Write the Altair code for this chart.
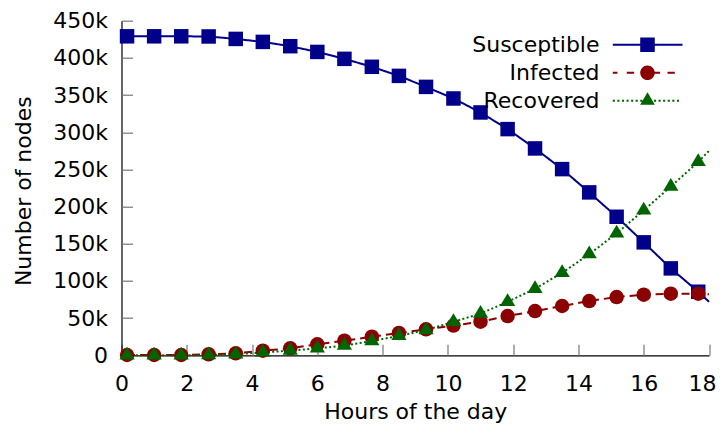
import altair as alt
import pandas as pd

# ---------------- data ----------------
series = ["Susceptible", "Infected", "Recovered"]
colors = ["#00008b", "#8b0000", "#006400"]

hours = [0.17, 1.0, 1.83, 2.67, 3.5, 4.33, 5.17, 6.0, 6.83, 7.67, 8.5,
         9.33, 10.17, 11.0, 11.83, 12.67, 13.5, 14.33, 15.17, 16.0, 16.83, 17.67]

susceptible = [429, 429, 429, 428.8, 425.5, 421.5, 415.7, 408, 398.7, 388, 375.8,
               361, 345.4, 326.6, 304.2, 278.2, 250.4, 219.1, 186.3, 151.9, 116.9, 85.5]
infected = [0.4, 0.4, 0.4, 1.3, 2.7, 6.2, 9.4, 14.8, 19.6, 25, 30,
            35, 40, 45.2, 52.8, 59.5, 66.3, 73, 78.4, 81.5, 82.8, 82.8]
recovered = [0, 0, 0, 0.4, 1.3, 4, 6.2, 9.4, 12.9, 19.2, 26,
             34, 45, 56, 72, 89.5, 111, 136, 164, 195, 227, 260]

# where each curve meets the right edge of the plot (hour 18)
edge_hour = 18
edge_values = [72, 82, 275]

x_ticks = [0, 2, 4, 6, 8, 10, 12, 14, 16, 18]
y_ticks = [0, 50000, 100000, 150000, 200000, 250000, 300000, 350000, 400000, 450000]

# ---------------- table ----------------
rows = []
for name, vals, edge in zip(series, [susceptible, infected, recovered], edge_values):
    for h, v in zip(hours, vals):
        rows.append({"series": name, "hour": h, "value": v * 1000, "marker": True})
    rows.append({"series": name, "hour": edge_hour, "value": edge * 1000, "marker": False})
df = pd.DataFrame(rows)

# ---------------- styles ----------------
FONT = "DejaVu Sans"
W, H = 587.5, 334.6

sq = "M-1,-1H1V1H-1Z"
tri = "M0,-1.19L1.05,0.57L-1.05,0.57Z"
marker_shapes = [sq, "circle", tri]


def rect(x0, x1, h=0.15):
    return f"M{x0:.2f},{-h}H{x1:.2f}V{h}H{x0:.2f}Z"


leg_sq = "M-1.04,-1.04H1.04V1.04H-1.04Z"
leg_circ = "M1.04,0A1.04,1.04 0 1,1 -1.04,0A1.04,1.04 0 1,1 1.04,0Z"
leg_tri = "M0,-1.19L1.05,0.57L-1.05,0.57Z"
path_s = rect(-4.96, 5.0) + leg_sq
path_i = rect(-4.96, -4.29) + rect(-2.96, -1.91) + rect(0.9, 1.8) + rect(2.86, 3.9) + leg_circ
path_r = "".join(rect(-4.96 + 0.654 * i, -4.96 + 0.654 * i + 0.3) for i in range(15)) + leg_tri
legend_paths = [path_s, path_i, path_r]

xs = alt.Scale(domain=[0, 18], nice=False, zero=False)
ys = alt.Scale(domain=[0, 450000], nice=False)
cs = alt.Scale(domain=series, range=colors)

leg = alt.Legend(
    title=None, orient="none", legendX=515, legendY=13, padding=0,
    labelFont=FONT, labelFontSize=22, labelColor="black",
    labelAlign="right", labelOffset={"expr": "-59"}, labelLimit=0, symbolOffset=0,
    symbolSize=196, symbolStrokeWidth=0, symbolOpacity=1,
    rowPadding=6,
)

main_x_axis = alt.Axis(
    values=x_ticks, format="d", ticks=False, grid=False,
    domainColor="black", domainWidth=1.2,
    labelFont=FONT, labelFontSize=22, labelColor="black", labelPadding=18,
    labelFlush=False,
    labelOffset={"condition": {"test": "datum.value == 18", "value": -7}, "value": 0},
    title="Hours of the day", titleFont=FONT, titleFontSize=22, titleFontWeight="normal",
    titleColor="black", titleBaseline="alphabetic", titleY=63.5, titleX=W / 2,
    orient="bottom",
)
main_y_axis = alt.Axis(
    values=y_ticks, ticks=False, grid=False,
    labelExpr="datum.value == 0 ? '0' : format(datum.value / 1000, 'd') + 'k'",
    domainColor="black", domainWidth=1.2,
    labelFont=FONT, labelFontSize=22, labelColor="black", labelPadding=14,
    labelFlush=False,
    title="Number of nodes", titleFont=FONT, titleFontSize=22, titleFontWeight="normal",
    titleColor="black", titleBaseline="alphabetic", titleX=-91, titleY=170, titleAngle=-90,
    orient="left",
)
tick_x_axis = alt.Axis(values=x_ticks, orient="bottom", offset=-11, tickSize=11, tickColor="#777",
                       tickWidth=1.2, labels=False, domain=False, grid=False, title=None)
tick_y_axis = alt.Axis(values=y_ticks, orient="left", offset=-11, tickSize=11, tickColor="#777",
                       tickWidth=1.2, labels=False, domain=False, grid=False, title=None)

base = alt.Chart(df)

legend_layer = base.transform_filter("false").mark_point(filled=True).encode(
    x=alt.X("hour:Q", scale=xs, axis=None),
    y=alt.Y("value:Q", scale=ys, axis=None),
    color=alt.Color("series:N", scale=cs, legend=leg),
    shape=alt.Shape("series:N", scale=alt.Scale(domain=series, range=legend_paths), legend=leg),
)

line_layer = base.mark_line(strokeWidth=2).encode(
    x=alt.X("hour:Q", scale=xs, axis=main_x_axis),
    y=alt.Y("value:Q", scale=ys, axis=main_y_axis),
    color=alt.Color("series:N", scale=cs, legend=leg),
    strokeDash=alt.StrokeDash("series:N", scale=alt.Scale(domain=series, range=[[1, 0], [8, 5], [2, 2.4]]),
                              legend=leg),
    detail="series:N",
)

point_layers = []
for i, (name, col, shp) in enumerate(zip(series, colors, marker_shapes)):
    point_layers.append(
        base.transform_filter(alt.datum.marker & (alt.datum.series == name))
        .mark_point(filled=True, shape=shp, size=210, opacity=1, color=col)
        .encode(
            x=alt.X("hour:Q", scale=xs, axis=tick_x_axis if i == 0 else None),
            y=alt.Y("value:Q", scale=ys, axis=tick_y_axis if i == 0 else None),
        )
    )

chart = (
    alt.layer(legend_layer, line_layer, *point_layers)
    .resolve_axis(x="independent", y="independent")
    .properties(
        width=W, height=H,
        autosize=alt.AutoSizeParams(type="none"),
        padding={"left": 113.5, "top": 12.7, "right": 8, "bottom": 69.5},
    )
    .configure_view(stroke=None)
)

chart.save("out.html", embed_options={"renderer": "svg", "actions": False})
